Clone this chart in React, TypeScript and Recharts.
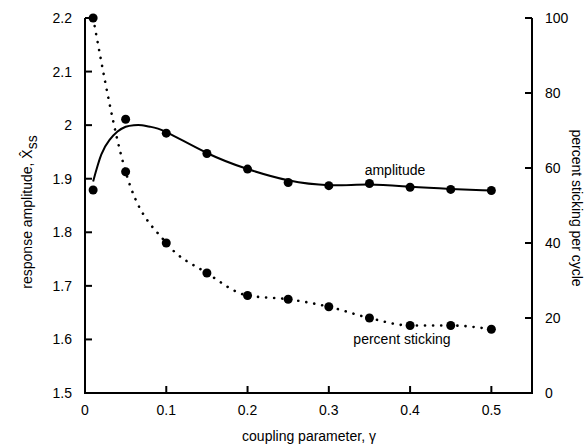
import { ComposedChart, Line, XAxis, YAxis, Label } from 'recharts'

// measured points
const gamma = [0.01, 0.05, 0.1, 0.15, 0.2, 0.25, 0.3, 0.35, 0.4, 0.45, 0.5]
const amplitude = [1.879, 2.011, 1.985, 1.947, 1.918, 1.893, 1.887, 1.891, 1.884, 1.88, 1.878]
const sticking = [100, 59, 40, 32, 26, 25, 23, 20, 18, 18, 17]

// smooth fit drawn through the amplitude points
const fitGamma = [0.01, 0.02, 0.03, 0.04, 0.05, 0.06, 0.07, 0.08, 0.1, 0.15, 0.2, 0.25, 0.3, 0.35, 0.4, 0.45, 0.5]
const fitAmplitude = [1.895, 1.945, 1.972, 1.988, 1.997, 2.0, 2.0, 1.997, 1.987, 1.948, 1.918, 1.897, 1.888, 1.889, 1.885, 1.881, 1.878]

const xTicks = [0, 0.1, 0.2, 0.3, 0.4, 0.5]
const leftTicks = [1.5, 1.6, 1.7, 1.8, 1.9, 2, 2.1, 2.2]
const rightTicks = [0, 20, 40, 60, 80, 100]
const xDomain = [0, 0.55]
const leftDomain = [1.5, 2.2]
const rightDomain = [0, 100]

const ampPoints = gamma.map((g, i) => ({ g, amp: amplitude[i] }))
const stickPoints = gamma.map((g, i) => ({ g, stick: sticking[i] }))
const ampFit = fitGamma.map((g, i) => ({ g, fit: fitAmplitude[i] }))

// axis frame (left, bottom, right) and tick anchor points, placed by the chart's scales
const framePts = [
  { g: xDomain[0], v: leftDomain[1] },
  { g: xDomain[0], v: leftDomain[0] },
  { g: xDomain[1], v: leftDomain[0] },
  { g: xDomain[1], v: leftDomain[1] },
]
const xTickPts = xTicks.map((t) => ({ g: t, v: leftDomain[0] }))
const leftTickPts = leftTicks.map((t) => ({ g: xDomain[0], v: t }))
const rightTickPts = rightTicks.map((t) => ({ g: xDomain[1], r: t }))

const font = '"Liberation Sans", Arial, sans-serif'
const GAP = 13 // axis line to label
const TICK = 7 // inward tick length
const axisStroke = { stroke: '#000', strokeWidth: 2 }

const tickMark = (dx: number, dy: number) => (p: any) => (
  <path
    key={p.index}
    d={`M${p.cx},${p.cy}l${dx},${dy}`}
    fill="none"
    stroke="#000"
    strokeWidth={2}
  />
)

const makeTick = (side: 'left' | 'right' | 'bottom') => (p: any) => {
  const label = String(p.payload.value)
  if (side === 'bottom') {
    return (
      <text x={p.x} y={p.y} dy="0.71em" textAnchor="middle" fontSize={14} fontFamily={font} fill="#000">
        {label}
      </text>
    )
  }
  return (
    <text x={p.x} y={p.y} dy="0.355em" textAnchor={side === 'left' ? 'end' : 'start'} fontSize={14} fontFamily={font} fill="#000">
      {label}
    </text>
  )
}

export default function App() {
  return (
    <div style={{ position: 'fixed', left: 0, top: 0, background: '#fff' }}>
      <ComposedChart width={586} height={446} margin={{ top: 18, right: 0, bottom: 0, left: 0 }}>
        <XAxis
          type="number"
          dataKey="g"
          domain={xDomain}
          ticks={xTicks}
          height={53}
          axisLine={axisStroke}
          tickLine={false}
          tickSize={0}
          tickMargin={12}
          tick={makeTick('bottom')}
        >
          <Label
            content={() => (
              <text x={309} y={441} textAnchor="middle" fontSize={14} fontFamily={font} fill="#000">
                coupling parameter, γ
              </text>
            )}
          />
        </XAxis>
        <YAxis
          yAxisId="left"
          type="number"
          domain={leftDomain}
          ticks={leftTicks}
          width={85}
          axisLine={axisStroke}
          tickLine={false}
          tickSize={0}
          tickMargin={GAP}
          tick={makeTick('left')}
        >
          <Label
            content={() => (
              <text
                x={32}
                y={212}
                transform="rotate(-90 32 212)"
                textAnchor="middle"
                fontSize={14}
                fontFamily={font}
                fill="#000"
              >
                response amplitude, X̂
                <tspan dy={5}>ss</tspan>
              </text>
            )}
          />
        </YAxis>
        <YAxis
          yAxisId="right"
          orientation="right"
          type="number"
          domain={rightDomain}
          ticks={rightTicks}
          width={54}
          axisLine={axisStroke}
          tickLine={false}
          tickSize={0}
          tickMargin={GAP}
          tick={makeTick('right')}
        >
          <Label
            content={() => (
              <text
                x={572}
                y={208}
                transform="rotate(90 572 208)"
                textAnchor="middle"
                fontSize={14}
                fontFamily={font}
                fill="#000"
              >
                percent sticking per cycle
              </text>
            )}
          />
        </YAxis>

        {/* frame and inward tick marks */}
        <Line
          yAxisId="left"
          data={framePts}
          dataKey="v"
          type="linear"
          stroke="#000"
          strokeWidth={2}
          dot={false}
          activeDot={false}
          isAnimationActive={false}
        />
        <Line
          yAxisId="left"
          data={xTickPts}
          dataKey="v"
          stroke="none"
          dot={tickMark(0, -TICK)}
          activeDot={false}
          isAnimationActive={false}
        />
        <Line
          yAxisId="left"
          data={leftTickPts}
          dataKey="v"
          stroke="none"
          dot={tickMark(TICK, 0)}
          activeDot={false}
          isAnimationActive={false}
        />
        <Line
          yAxisId="right"
          data={rightTickPts}
          dataKey="r"
          stroke="none"
          dot={tickMark(-TICK, 0)}
          activeDot={false}
          isAnimationActive={false}
        />

        <Line
          yAxisId="left"
          data={ampFit}
          dataKey="fit"
          type="natural"
          stroke="#000"
          strokeWidth={2}
          dot={false}
          activeDot={false}
          isAnimationActive={false}
        />
        <Line
          yAxisId="right"
          data={stickPoints}
          dataKey="stick"
          type="monotone"
          stroke="#000"
          strokeWidth={2.6}
          strokeDasharray="0.1 8"
          strokeLinecap="round"
          dot={{ r: 4.5, fill: '#000', stroke: 'none', strokeDasharray: '' }}
          activeDot={false}
          isAnimationActive={false}
        />
        <Line
          yAxisId="left"
          data={ampPoints}
          dataKey="amp"
          stroke="none"
          dot={{ r: 4.5, fill: '#000', stroke: 'none' }}
          activeDot={false}
          isAnimationActive={false}
        />
        <text x={395} y={175} textAnchor="middle" fontSize={14} fontFamily={font} fill="#000">
          amplitude
        </text>
        <text x={402} y={344} textAnchor="middle" fontSize={14} fontFamily={font} fill="#000">
          percent sticking
        </text>
      </ComposedChart>
    </div>
  )
}
